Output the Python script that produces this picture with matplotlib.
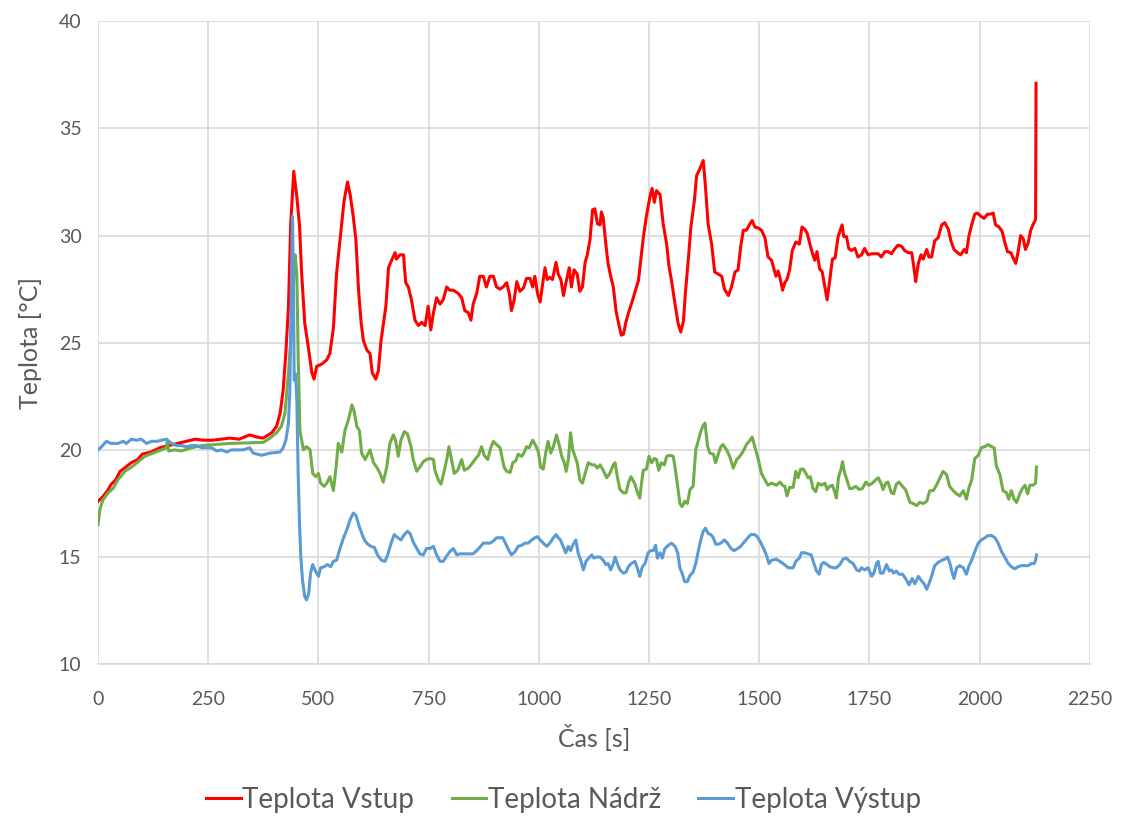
import matplotlib
matplotlib.use("Agg")
import matplotlib.pyplot as plt

plt.rcParams['font.family'] = ['Lato', 'DejaVu Sans']

# Teplota Vstup
t_vstup = [0, 10, 20, 30, 40, 50, 60, 75, 90, 100, 120, 140, 160, 180, 200, 220, 240, 260, 280, 299,
           320, 344, 360, 375, 394, 405, 413, 420, 426, 432, 437, 444, 451, 457, 462, 469, 477, 485, 490, 496,
           507, 519, 526, 534, 541, 550, 558, 566, 572, 579, 585, 591, 597, 602, 610, 617, 622, 630, 636, 642,
           653, 659, 666, 674, 677, 685, 693, 698, 704, 711, 719, 727, 734, 742, 749, 755, 761, 768, 776, 783,
           791, 798, 806, 817, 825, 832, 840, 846, 851, 859, 866, 874, 881, 889, 897, 904, 912, 919, 927, 933,
           938, 944, 950, 957, 965, 972, 980, 986, 991, 997, 1003, 1009, 1014, 1019, 1025, 1031, 1039, 1044, 1050, 1056,
           1061, 1069, 1074, 1080, 1087, 1093, 1099, 1105, 1110, 1116, 1122, 1127, 1133, 1139, 1142, 1146, 1152, 1157, 1163, 1169,
           1175, 1181, 1187, 1192, 1198, 1205, 1213, 1220, 1226, 1232, 1237, 1244, 1252, 1257, 1262, 1267, 1275, 1282, 1290, 1295,
           1301, 1309, 1316, 1322, 1328, 1333, 1339, 1345, 1353, 1358, 1365, 1373, 1378, 1384, 1392, 1399, 1407, 1415, 1421, 1430,
           1437, 1445, 1452, 1458, 1464, 1471, 1479, 1484, 1490, 1498, 1505, 1513, 1520, 1528, 1538, 1543, 1548, 1553, 1558, 1563,
           1569, 1575, 1583, 1591, 1597, 1603, 1609, 1615, 1621, 1626, 1631, 1637, 1643, 1649, 1654, 1660, 1666, 1672, 1679, 1684,
           1688, 1692, 1698, 1703, 1709, 1717, 1724, 1732, 1739, 1747, 1755, 1762, 1770, 1777, 1785, 1792, 1800, 1808, 1815, 1823,
           1830, 1838, 1846, 1852, 1855, 1861, 1867, 1872, 1880, 1885, 1891, 1898, 1906, 1914, 1921, 1929, 1935, 1942, 1950, 1957,
           1965, 1970, 1976, 1982, 1989, 1995, 2003, 2010, 2018, 2025, 2031, 2036, 2044, 2051, 2057, 2063, 2071, 2076, 2082, 2087,
           2093, 2099, 2104, 2110, 2116, 2121, 2127, 2128]
vstup = [17.6, 17.8, 18.05, 18.4, 18.6, 19.0, 19.15, 19.4, 19.55, 19.8, 19.9, 20.1, 20.2, 20.3, 20.4, 20.5, 20.45, 20.45, 20.5, 20.55,
         20.5, 20.7, 20.6, 20.55, 20.8, 21.1, 21.7, 22.8, 24.5, 26.7, 30.5, 33.0, 31.8, 30.5, 28.2, 25.9, 24.8, 23.6, 23.3, 23.9,
         24.0, 24.2, 24.5, 25.7, 28.2, 30.0, 31.6, 32.5, 31.9, 30.9, 29.8, 27.45, 25.9, 25.1, 24.65, 24.5, 23.6, 23.3, 23.7, 25.1,
         26.7, 28.5, 28.85, 29.2, 28.9, 29.1, 29.1, 27.8, 27.6, 27.0, 26.05, 25.8, 25.95, 25.8, 26.7, 25.6, 26.4, 27.1, 26.8, 27.0,
         27.6, 27.45, 27.45, 27.3, 27.1, 26.5, 26.4, 26.05, 26.8, 27.3, 28.1, 28.1, 27.6, 28.1, 28.1, 27.6, 27.5, 27.6, 27.8, 27.3,
         26.5, 27.0, 27.85, 27.4, 27.55, 28.0, 28.0, 27.6, 28.1, 27.3, 26.9, 27.8, 28.5, 27.95, 28.05, 27.95, 28.75, 28.2, 27.95, 27.2,
         27.75, 28.5, 27.6, 28.4, 28.2, 27.4, 27.6, 28.75, 29.1, 29.8, 31.2, 31.25, 30.55, 30.5, 31.1, 30.85, 29.6, 28.7, 28.1, 27.6,
         26.5, 25.9, 25.35, 25.4, 26.0, 26.5, 27.0, 27.5, 27.9, 29.0, 29.9, 30.9, 31.8, 32.2, 31.55, 32.1, 31.9, 30.55, 29.6, 28.6,
         27.9, 26.8, 25.9, 25.5, 26.0, 27.45, 28.85, 30.4, 31.65, 32.8, 33.1, 33.5, 32.3, 30.55, 29.6, 28.3, 28.2, 28.1, 27.5, 27.2,
         27.6, 28.3, 28.4, 29.5, 30.25, 30.25, 30.55, 30.7, 30.4, 30.35, 30.25, 29.9, 29.0, 28.85, 28.1, 28.35, 27.95, 27.45, 27.8, 27.95,
         28.4, 29.3, 29.7, 29.6, 30.4, 30.3, 30.1, 29.6, 29.15, 28.85, 29.25, 28.45, 28.3, 27.6, 27.0, 27.9, 28.9, 28.95, 29.95, 30.25,
         30.5, 29.95, 29.95, 29.4, 29.3, 29.4, 29.0, 29.1, 29.4, 29.1, 29.15, 29.15, 29.15, 29.0, 29.25, 29.25, 29.15, 29.4, 29.55, 29.5,
         29.3, 29.2, 29.2, 28.35, 27.85, 28.7, 29.1, 28.9, 29.35, 29.0, 29.0, 29.75, 29.9, 30.5, 30.6, 30.3, 29.75, 29.35, 29.2, 29.1,
         29.35, 29.2, 30.0, 30.5, 31.0, 31.05, 30.9, 30.8, 31.0, 31.0, 31.05, 30.5, 30.4, 30.2, 29.7, 29.25, 29.2, 28.95, 28.7, 29.2,
         30.0, 29.85, 29.35, 29.65, 30.25, 30.5, 30.75, 37.1]

# Teplota Nádrž
t_nadrz = [0, 4, 11, 23, 34, 45, 61, 76, 91, 106, 125, 144, 155, 157, 160, 174, 189, 212, 235, 265,
           299, 375, 390, 405, 416, 424, 432, 437, 441, 447, 451, 454, 458, 466, 473, 481, 487, 494, 500, 505,
           513, 519, 526, 534, 540, 545, 553, 560, 568, 576, 581, 587, 593, 598, 606, 617, 625, 632, 640, 647,
           655, 662, 670, 675, 681, 687, 695, 702, 710, 715, 723, 730, 738, 745, 753, 761, 764, 772, 778, 783,
           791, 796, 802, 808, 816, 825, 831, 840, 848, 855, 863, 870, 876, 884, 891, 897, 904, 912, 921, 927,
           935, 941, 948, 953, 961, 966, 972, 978, 986, 993, 999, 1004, 1010, 1016, 1021, 1027, 1033, 1040, 1046, 1052,
           1057, 1062, 1067, 1072, 1077, 1082, 1087, 1093, 1099, 1105, 1112, 1120, 1127, 1133, 1139, 1146, 1154, 1161, 1169, 1173,
           1178, 1184, 1192, 1198, 1203, 1209, 1217, 1224, 1229, 1232, 1237, 1244, 1250, 1256, 1262, 1267, 1272, 1278, 1285, 1290,
           1297, 1305, 1310, 1315, 1320, 1325, 1331, 1337, 1343, 1350, 1356, 1362, 1368, 1373, 1377, 1383, 1388, 1396, 1401, 1407,
           1413, 1418, 1426, 1433, 1441, 1449, 1456, 1464, 1471, 1479, 1484, 1490, 1498, 1505, 1513, 1520, 1528, 1539, 1547, 1553,
           1558, 1563, 1569, 1577, 1583, 1588, 1594, 1600, 1606, 1611, 1616, 1622, 1628, 1634, 1641, 1649, 1654, 1660, 1666, 1671,
           1675, 1680, 1685, 1689, 1694, 1699, 1705, 1711, 1719, 1727, 1734, 1742, 1749, 1757, 1764, 1770, 1776, 1781, 1787, 1792,
           1800, 1805, 1811, 1817, 1825, 1832, 1842, 1849, 1857, 1864, 1872, 1880, 1887, 1895, 1902, 1910, 1917, 1925, 1932, 1940,
           1948, 1955, 1963, 1970, 1976, 1982, 1989, 1997, 2004, 2012, 2019, 2027, 2033, 2038, 2046, 2053, 2061, 2066, 2072, 2078,
           2084, 2091, 2097, 2103, 2109, 2114, 2121, 2127, 2129]
nadrz = [16.5, 17.2, 17.67, 18.0, 18.2, 18.6, 19.0, 19.2, 19.45, 19.7, 19.85, 20.0, 20.1, 20.4, 19.95, 20.0, 19.95, 20.1, 20.2, 20.25,
         20.3, 20.35, 20.55, 20.8, 21.1, 21.7, 23.6, 25.1, 27.0, 29.1, 28.2, 24.35, 20.9, 20.0, 20.15, 20.0, 18.9, 18.75, 18.9, 18.45,
         18.3, 18.45, 18.75, 18.1, 19.2, 20.3, 19.9, 20.9, 21.4, 22.1, 21.8, 21.1, 20.9, 19.85, 19.55, 20.0, 19.4, 19.2, 18.9, 18.5,
         19.2, 20.3, 20.7, 20.45, 19.7, 20.45, 20.85, 20.75, 20.15, 19.55, 19.0, 19.2, 19.45, 19.55, 19.6, 19.55, 19.05, 18.6, 18.4, 18.8,
         19.55, 20.15, 19.55, 18.9, 19.05, 19.55, 19.05, 19.15, 19.35, 19.55, 19.75, 20.15, 19.75, 19.55, 20.1, 20.4, 20.25, 20.1, 19.2, 19.0,
         18.95, 19.4, 19.5, 19.8, 19.7, 19.85, 20.15, 20.1, 20.45, 20.2, 19.9, 19.2, 19.1, 19.9, 20.4, 19.85, 20.15, 20.7, 20.25, 19.7,
         19.45, 19.0, 19.55, 20.8, 20.0, 19.7, 19.4, 18.6, 18.45, 18.9, 19.4, 19.3, 19.3, 19.15, 19.3, 19.05, 18.7, 18.9, 19.3, 19.4,
         18.75, 18.15, 18.0, 18.0, 18.45, 18.75, 18.45, 18.0, 17.75, 18.3, 19.05, 19.1, 19.7, 19.4, 19.6, 19.55, 19.05, 19.4, 19.3, 19.7,
         19.75, 19.7, 19.05, 18.3, 17.5, 17.35, 17.6, 17.5, 18.15, 18.3, 20.0, 20.45, 20.9, 21.15, 21.25, 20.15, 19.85, 19.8, 19.4, 19.8,
         20.15, 20.25, 20.0, 19.7, 19.15, 19.55, 19.7, 19.95, 20.25, 20.45, 20.6, 20.15, 19.55, 18.9, 18.6, 18.35, 18.45, 18.35, 18.5, 18.35,
         18.3, 17.85, 18.25, 18.25, 19.0, 18.7, 19.1, 19.1, 18.9, 18.7, 18.75, 18.2, 18.05, 18.45, 18.35, 18.45, 18.15, 18.3, 18.35, 18.05,
         17.75, 18.75, 19.05, 19.45, 18.9, 18.6, 18.2, 18.2, 18.3, 18.15, 18.2, 18.5, 18.35, 18.45, 18.6, 18.7, 18.45, 18.15, 18.45, 18.5,
         18.0, 17.95, 18.4, 18.5, 18.3, 18.15, 17.55, 17.5, 17.4, 17.55, 17.5, 17.6, 18.1, 18.1, 18.35, 18.7, 19.0, 18.85, 18.3, 18.1,
         17.95, 17.85, 18.1, 17.7, 18.25, 18.6, 19.6, 19.75, 20.1, 20.15, 20.25, 20.15, 20.1, 19.25, 18.85, 18.1, 18.0, 17.7, 18.1, 17.7,
         17.55, 17.95, 18.2, 18.35, 17.95, 18.35, 18.35, 18.45, 19.2]

# Teplota Výstup
t_vystup = [0, 8, 19, 30, 45, 57, 64, 76, 87, 98, 110, 121, 133, 144, 155, 167, 178, 189, 201, 212,
            223, 235, 246, 258, 269, 280, 292, 303, 329, 344, 352, 371, 390, 413, 420, 426, 432, 435, 438, 441,
            443, 445, 448, 451, 454, 457, 460, 464, 469, 473, 478, 482, 487, 492, 500, 505, 513, 520, 528, 534,
            541, 549, 557, 564, 572, 579, 585, 593, 601, 606, 612, 619, 627, 634, 643, 651, 657, 665, 672, 680,
            687, 695, 702, 708, 715, 723, 730, 738, 745, 753, 761, 768, 776, 783, 791, 798, 806, 814, 821, 829,
            840, 851, 859, 866, 874, 881, 889, 897, 904, 912, 918, 923, 931, 938, 946, 953, 961, 969, 976, 984,
            991, 997, 1003, 1010, 1018, 1025, 1033, 1039, 1044, 1049, 1055, 1061, 1067, 1072, 1078, 1084, 1089, 1095, 1101, 1107,
            1113, 1120, 1125, 1131, 1139, 1146, 1152, 1157, 1163, 1169, 1173, 1178, 1184, 1192, 1198, 1203, 1210, 1218, 1224, 1229,
            1235, 1241, 1248, 1254, 1260, 1265, 1269, 1275, 1280, 1286, 1294, 1301, 1309, 1315, 1320, 1325, 1331, 1337, 1343, 1350,
            1356, 1362, 1368, 1373, 1378, 1384, 1390, 1396, 1401, 1407, 1413, 1421, 1428, 1436, 1443, 1451, 1458, 1466, 1474, 1481,
            1489, 1496, 1504, 1511, 1517, 1522, 1528, 1539, 1554, 1566, 1577, 1583, 1591, 1596, 1603, 1618, 1624, 1630, 1636, 1641,
            1646, 1654, 1660, 1668, 1675, 1683, 1690, 1698, 1705, 1713, 1721, 1727, 1732, 1739, 1747, 1755, 1760, 1766, 1770, 1775,
            1781, 1789, 1795, 1800, 1805, 1811, 1817, 1825, 1832, 1840, 1847, 1853, 1861, 1868, 1874, 1880, 1885, 1891, 1898, 1906,
            1914, 1921, 1927, 1932, 1938, 1942, 1948, 1955, 1963, 1970, 1976, 1982, 1989, 1997, 2004, 2012, 2019, 2027, 2035, 2042,
            2050, 2057, 2065, 2072, 2080, 2087, 2095, 2103, 2110, 2118, 2124, 2127, 2129]
vystup = [20.0, 20.15, 20.4, 20.3, 20.3, 20.4, 20.3, 20.5, 20.45, 20.5, 20.3, 20.4, 20.4, 20.45, 20.5, 20.3, 20.2, 20.2, 20.15, 20.2,
          20.2, 20.1, 20.1, 20.1, 19.95, 20.0, 19.9, 20.0, 20.0, 20.1, 19.85, 19.75, 19.85, 19.9, 20.1, 20.45, 21.25, 22.65, 26.7, 30.9,
          28.2, 23.25, 23.55, 22.3, 18.9, 16.6, 15.0, 13.9, 13.15, 13.0, 13.3, 14.25, 14.65, 14.4, 14.1, 14.5, 14.55, 14.65, 14.55, 14.8,
          14.85, 15.4, 15.9, 16.25, 16.75, 17.05, 16.95, 16.4, 15.95, 15.75, 15.6, 15.5, 15.45, 15.1, 14.85, 14.8, 15.1, 15.65, 16.05, 15.9,
          15.8, 16.05, 16.2, 16.1, 15.7, 15.4, 15.15, 15.1, 15.4, 15.4, 15.5, 15.1, 14.8, 14.8, 15.05, 15.25, 15.4, 15.1, 15.15, 15.15,
          15.15, 15.15, 15.3, 15.45, 15.65, 15.65, 15.65, 15.75, 15.9, 15.9, 15.9, 15.7, 15.35, 15.1, 15.25, 15.5, 15.55, 15.65, 15.65, 15.8,
          15.9, 15.95, 15.8, 15.65, 15.5, 15.65, 15.9, 16.05, 15.9, 15.8, 15.5, 15.2, 15.5, 15.3, 15.6, 15.8, 15.2, 14.85, 14.4, 14.8,
          14.95, 15.1, 14.95, 15.0, 15.0, 14.85, 14.65, 14.7, 14.4, 14.7, 15.0, 14.7, 14.4, 14.25, 14.3, 14.55, 14.7, 14.8, 14.45, 14.1,
          14.55, 14.7, 15.2, 15.3, 15.3, 15.55, 14.95, 15.2, 14.95, 15.4, 15.55, 15.65, 15.5, 15.2, 14.5, 14.25, 13.85, 13.85, 14.15, 14.3,
          14.7, 15.3, 15.85, 16.2, 16.35, 16.1, 16.05, 15.9, 15.6, 15.6, 15.65, 15.8, 15.65, 15.4, 15.3, 15.4, 15.5, 15.7, 15.9, 16.05,
          16.05, 15.95, 15.65, 15.35, 15.05, 14.7, 14.85, 14.9, 14.7, 14.5, 14.5, 14.8, 14.95, 15.2, 15.2, 15.1, 14.7, 14.35, 14.2, 14.65,
          14.75, 14.65, 14.55, 14.5, 14.5, 14.65, 14.9, 14.95, 14.8, 14.7, 14.4, 14.35, 14.5, 14.4, 14.5, 14.1, 14.25, 14.7, 14.8, 14.25,
          14.25, 14.65, 14.35, 14.4, 14.25, 14.35, 14.2, 14.2, 14.0, 13.7, 14.0, 13.75, 14.1, 13.9, 13.75, 13.5, 13.75, 14.1, 14.6, 14.75,
          14.85, 14.9, 15.0, 14.75, 14.25, 14.0, 14.5, 14.6, 14.5, 14.2, 14.6, 14.85, 15.25, 15.65, 15.8, 15.9, 16.0, 16.0, 15.9, 15.65,
          15.25, 15.0, 14.7, 14.55, 14.45, 14.55, 14.6, 14.6, 14.6, 14.7, 14.7, 14.85, 15.1]

text_col = '#595959'
grid_col = '#d9d9d9'

fig = plt.figure(figsize=(11.27, 8.16), dpi=100)
ax = fig.add_axes([0.087, 0.186, 0.880, 0.788])

ax.plot(t_vstup, vstup, color='#ff0000', lw=2.2, label='Teplota Vstup')
ax.plot(t_nadrz, nadrz, color='#70ad47', lw=2.2, label='Teplota Nádrž')
ax.plot(t_vystup, vystup, color='#5b9bd5', lw=2.2, label='Teplota Výstup')

ax.set_xlim(0, 2250)
ax.set_ylim(10, 40)
ax.set_xticks(range(0, 2251, 250))
ax.set_yticks(range(10, 41, 5))
ax.grid(True, color=grid_col, lw=1.2)
ax.set_axisbelow(True)
for s in ['top', 'right', 'left']:
    ax.spines[s].set_visible(False)
ax.spines['bottom'].set_color(grid_col)
ax.spines['bottom'].set_linewidth(1.2)
ax.tick_params(length=0, labelsize=14, labelcolor=text_col)
ax.tick_params(axis='x', pad=19)
ax.tick_params(axis='y', pad=12)

ax.set_xlabel('Čas [s]', fontsize=18, color=text_col, labelpad=12)
ax.set_ylabel('Teplota [°C]', fontsize=18, color=text_col, labelpad=12)

fig.legend(loc='center', bbox_to_anchor=(0.5, 1 - 800 / 816), ncol=3, frameon=False,
           fontsize=20, labelcolor=text_col, handlelength=1.25, handletextpad=0.05, columnspacing=1.35)

fig.savefig('out.png', dpi=100)
